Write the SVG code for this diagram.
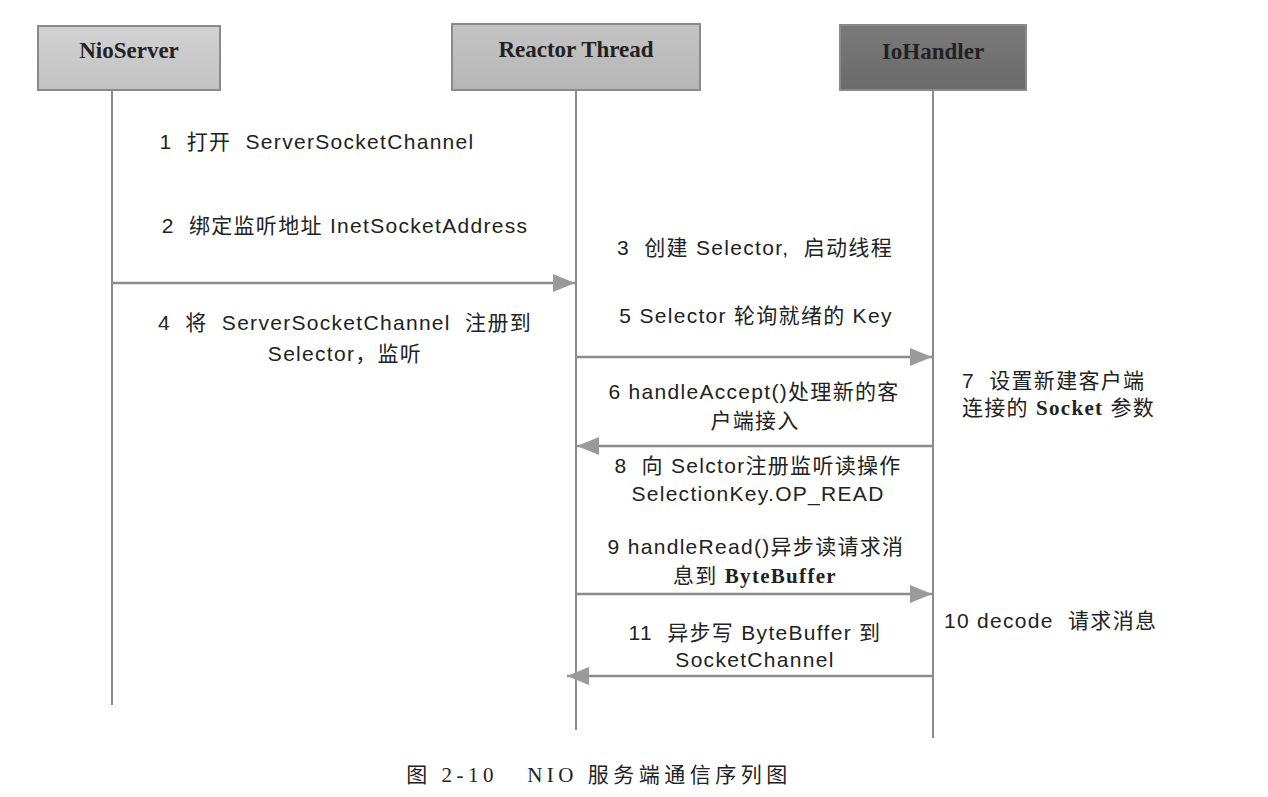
<svg xmlns="http://www.w3.org/2000/svg" width="1268" height="797" viewBox="0 0 1268 797">
<defs>
<linearGradient id="gLight" x1="0" y1="0" x2="0" y2="1"><stop offset="0" stop-color="#d2d2d2"/><stop offset="1" stop-color="#c2c2c2"/></linearGradient>
<linearGradient id="gMid" x1="0" y1="0" x2="0" y2="1"><stop offset="0" stop-color="#c4c4c4"/><stop offset="1" stop-color="#b6b6b6"/></linearGradient>
<linearGradient id="gDark" x1="0" y1="0" x2="0" y2="1"><stop offset="0" stop-color="#7a7a7a"/><stop offset="1" stop-color="#6a6a6a"/></linearGradient>
<marker id="arr" markerUnits="userSpaceOnUse" markerWidth="24" markerHeight="18" refX="22" refY="9" orient="auto"><path d="M0,0 L22,9 L0,18 z" fill="#9a9a9a"/></marker>
</defs>
<style>
.hd{font-family:"Liberation Serif","Noto Sans CJK SC",serif;font-size:23px;font-weight:bold;fill:#222;text-anchor:middle}
.box{stroke:#8a8a8a;stroke-width:2}
.life{stroke:#8c8c8c;stroke-width:2;fill:none}
.msg{stroke:#8c8c8c;stroke-width:2.5;fill:none;marker-end:url(#arr)}
.t{font-family:"Liberation Sans","Noto Sans CJK SC",sans-serif;font-size:21px;letter-spacing:1.3px;fill:#222}
.c{text-anchor:middle}
.b{font-weight:bold;font-family:"Liberation Serif","Noto Sans CJK SC",serif}
.cap{font-family:"Liberation Serif","Noto Sans CJK SC",serif;font-size:21px;fill:#222;text-anchor:middle;letter-spacing:4.5px}
</style>
<rect width="1268" height="797" fill="#ffffff"/>
<g id="nioserver">
<rect class="box" x="38" y="26" width="182" height="64" fill="url(#gLight)"/>
<text class="hd" x="129" y="58">NioServer</text>
<line class="life" x1="112" y1="91" x2="112" y2="705"/>
</g>
<g id="reactor">
<rect class="box" x="452" y="24" width="248" height="66" fill="url(#gMid)"/>
<text class="hd" x="576" y="57">Reactor Thread</text>
<line class="life" x1="576" y1="91" x2="576" y2="730"/>
</g>
<g id="iohandler">
<rect class="box" x="840" y="25" width="186" height="65" fill="url(#gDark)" stroke="#666"/>
<text class="hd" x="933" y="59">IoHandler</text>
<line class="life" x1="933" y1="91" x2="933" y2="738"/>
</g>
<g id="connectors">
<line class="msg" x1="112" y1="283" x2="575" y2="283"/>
<line class="msg" x1="576" y1="357" x2="932" y2="357"/>
<line class="msg" x1="933" y1="446" x2="577" y2="446"/>
<line class="msg" x1="576" y1="594" x2="932" y2="594"/>
<line class="msg" x1="933" y1="676" x2="567" y2="676"/>
</g>
<g id="labels">
<text class="t c" x="317" y="149" xml:space="preserve">1  打开  ServerSocketChannel</text>
<text class="t c" x="345" y="233" xml:space="preserve">2  绑定监听地址 InetSocketAddress</text>
<text class="t c" x="755" y="255" xml:space="preserve">3  创建 Selector,  启动线程</text>
<text class="t c" x="345" y="330" xml:space="preserve">4  将  ServerSocketChannel  注册到</text>
<text class="t c" x="345" y="361">Selector，监听</text>
<text class="t c" x="756" y="323">5 Selector 轮询就绪的 Key</text>
<text class="t c" x="754" y="399">6 handleAccept()处理新的客</text>
<text class="t c" x="755" y="428">户端接入</text>
<text class="t" x="962" y="388" xml:space="preserve">7  设置新建客户端</text>
<text class="t" x="962" y="415">连接的 <tspan class="b">Socket</tspan> 参数</text>
<text class="t c" x="758" y="473" xml:space="preserve">8  向 Selctor注册监听读操作</text>
<text class="t c" x="758" y="501">SelectionKey.OP_READ</text>
<text class="t c" x="756" y="554">9 handleRead()异步读请求消</text>
<text class="t c" x="755" y="583">息到 <tspan class="b">ByteBuffer</tspan></text>
<text class="t" x="944" y="628" xml:space="preserve">10 decode  请求消息</text>
<text class="t c" x="755" y="640" xml:space="preserve">11  异步写 ByteBuffer 到</text>
<text class="t c" x="755" y="667">SocketChannel</text>
</g>
<text class="cap" x="599" y="782" xml:space="preserve">图 2-10   NIO 服务端通信序列图</text>
</svg>
